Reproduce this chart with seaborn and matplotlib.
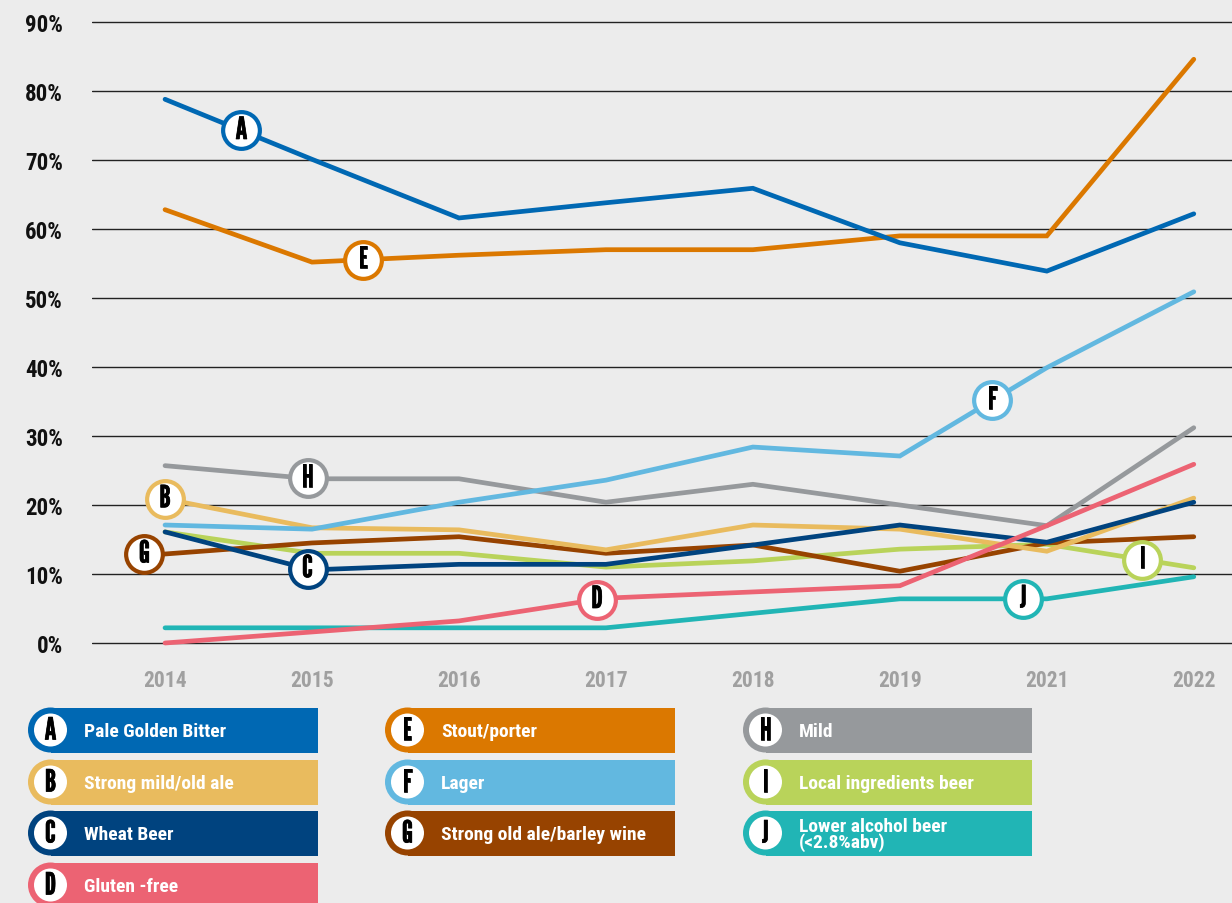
import numpy as np
import pandas as pd
import matplotlib
matplotlib.use("Agg")
import matplotlib.pyplot as plt
import matplotlib.patheffects as pe
from matplotlib.patches import Rectangle, Circle
import seaborn as sns

# data (percent)
years = ["2014", "2015", "2016", "2017", "2018", "2019", "2021", "2022"]
pale_golden_bitter = [78.8, 70.1, 61.6, 63.8, 65.9, 58.0, 53.9, 62.2]
strong_mild_old_ale = [20.9, 16.7, 16.4, 13.5, 17.1, 16.5, 13.3, 21.0]
wheat_beer = [16.1, 10.6, 11.4, 11.4, 14.2, 17.1, 14.6, 20.4]
gluten_free = [0.0, 1.6, 3.2, 6.5, 7.4, 8.3, 17.0, 25.9]
stout_porter = [62.8, 55.2, 56.2, 57.0, 57.0, 59.0, 59.0, 84.6]
lager = [17.1, 16.5, 20.4, 23.6, 28.4, 27.1, 39.9, 50.9]
strong_old_ale = [12.9, 14.5, 15.4, 13.0, 14.2, 10.4, 14.5, 15.4]
mild = [25.7, 23.8, 23.8, 20.4, 23.0, 20.0, 17.0, 31.2]
local_ingredients = [16.1, 13.0, 13.0, 11.0, 11.9, 13.6, 14.3, 10.9]
lower_alcohol = [2.2, 2.2, 2.2, 2.2, 4.3, 6.4, 6.4, 9.6]

letters = ["A", "B", "C", "D", "E", "F", "G", "H", "I", "J"]
names = ["Pale Golden Bitter", "Strong mild/old ale", "Wheat Beer", "Gluten -free",
         "Stout/porter", "Lager", "Strong old ale/barley wine", "Mild",
         "Local ingredients beer", "Lower alcohol beer\n(<2.8%abv)"]
series = [pale_golden_bitter, strong_mild_old_ale, wheat_beer, gluten_free,
          stout_porter, lager, strong_old_ale, mild, local_ingredients, lower_alcohol]
colors = ["#0068b3", "#e9bb5e", "#00437f", "#ec6373", "#db7800",
          "#62b8e0", "#974300", "#96999c", "#b9d35a", "#21b5b5"]
# where the letter badge sits along each line (position on the year axis)
badge_pos = [0.52, 0.0, 0.97, 2.94, 1.35, 5.63, -0.14, 0.97, 6.65, 5.84]

rows = []
for letter, vals in zip(letters, series):
    for i, v in enumerate(vals):
        rows.append({"idx": i, "value": v, "key": letter})
df = pd.DataFrame(rows)

sns.set_style("white")
plt.rcParams["font.family"] = ["Roboto Condensed", "DejaVu Sans"]
badge_font = ["League Gothic", "Roboto Condensed", "DejaVu Sans"]
bold_fx = [pe.withStroke(linewidth=0.5, foreground="black")]
bg = "#ececec"

W, H = 1232, 904
fig = plt.figure(figsize=(W / 100, H / 100), dpi=100, facecolor=bg)

ylo, yhi = -2, 92
top_px = 644 - 6.9 * yhi
bot_px = 644 - 6.9 * ylo
ax = fig.add_axes([92 / W, 1 - bot_px / H, (W - 92) / W, (bot_px - top_px) / H])
ax.set_facecolor(bg)

draw_order = ["J", "I", "G", "B", "C", "H", "F", "D", "E", "A"]
palette = dict(zip(letters, colors))
sns.lineplot(data=df, x="idx", y="value", hue="key", hue_order=draw_order,
             palette=palette, linewidth=3.4, legend=False, ax=ax,
             solid_capstyle="round", solid_joinstyle="miter")

# letter badges on the lines
for letter, vals, col, pos in zip(letters, series, colors, badge_pos):
    yv = np.interp(pos, np.arange(len(vals)), vals)
    ax.scatter([pos], [yv], s=700, facecolor="white", edgecolor=col,
               linewidth=3.0, zorder=5)
    ax.text(pos, yv, letter, ha="center", va="center", fontsize=22,
            family=badge_font, color="black", zorder=6, path_effects=bold_fx)

ax.set_xlim(-0.497, 7.26)
ax.set_ylim(ylo, yhi)
ax.set_yticks(range(0, 100, 10))
ax.set_yticklabels([f"{v}%" for v in range(0, 100, 10)], fontsize=16.5,
                   fontweight="bold", color="#111111")
ax.set_xticks(range(len(years)))
ax.set_xticklabels(years, fontsize=15.5, fontweight="bold", color="#a0a0a0")
ax.tick_params(axis="y", length=0, pad=21)
ax.tick_params(axis="x", length=0, pad=9)
ax.grid(axis="y", color="#222222", linewidth=1.0)
ax.grid(axis="x", visible=False)
ax.set_xlabel("")
ax.set_ylabel("")
for s in ax.spines.values():
    s.set_visible(False)

# legend drawn as coloured bars with letter badges
lg = fig.add_axes([0, 0, 1, 1], facecolor="none")
lg.set_xlim(0, W)
lg.set_ylim(H, 0)
lg.axis("off")
col_left = [28, 385, 743]
col_right = [318, 675, 1032]
row_mid = [731, 783, 834, 886]
box_h = 45
layout = [(0, 0), (0, 1), (0, 2), (0, 3), (1, 0), (1, 1), (1, 2), (2, 0), (2, 1), (2, 2)]
for (c, r), letter, name, col in zip(layout, letters, names, colors):
    cx = col_left[c] + box_h / 2
    cy = row_mid[r]
    lg.add_patch(Rectangle((cx, cy - box_h / 2), col_right[c] - cx, box_h,
                           facecolor=col, edgecolor="none"))
    lg.add_patch(Circle((cx, cy), box_h / 2, facecolor=col, edgecolor="none"))
    lg.add_patch(Circle((cx, cy), 16.5, facecolor="white", edgecolor="none"))
    lg.text(cx, cy + 1, letter, ha="center", va="center", fontsize=22,
            family=badge_font, color="black", path_effects=bold_fx)
    lg.text(col_left[c] + 56, cy + 1, name, ha="left", va="center", fontsize=14,
            fontweight="bold", color="white", linespacing=0.85)

fig.savefig("out.png", dpi=100, facecolor=bg)
